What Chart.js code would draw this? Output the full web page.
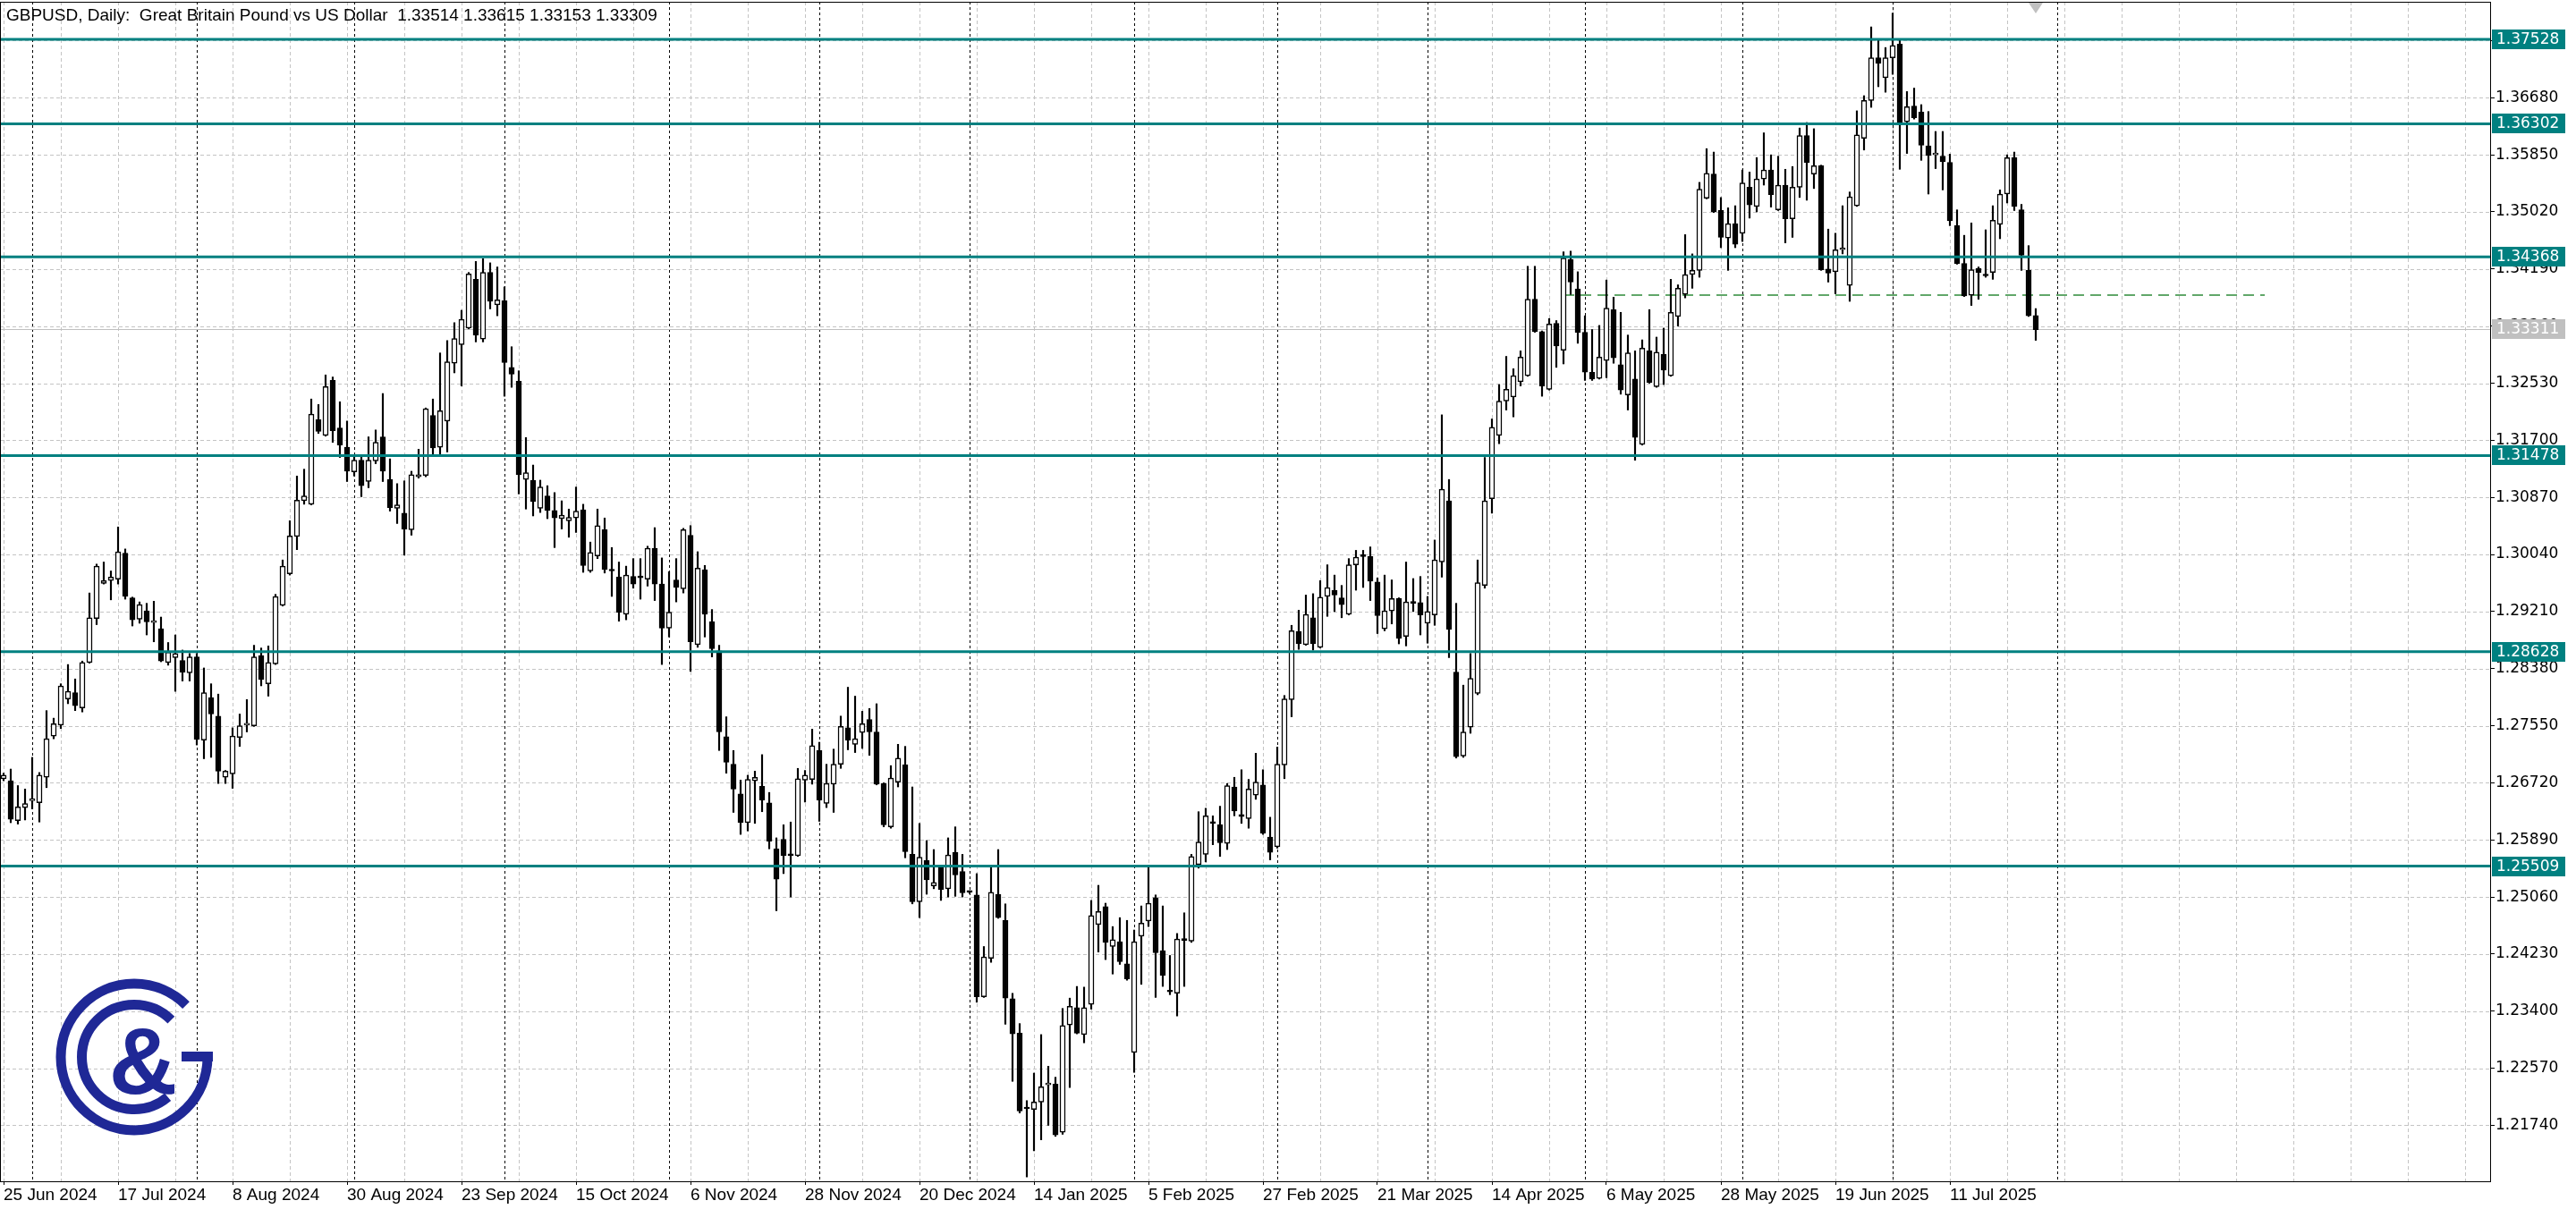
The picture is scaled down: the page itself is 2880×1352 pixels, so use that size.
<!DOCTYPE html>
<html lang="en">
<head>
<meta charset="UTF-8">
<title>GBPUSD, Daily</title>
<script src="https://cdn.jsdelivr.net/npm/chart.js"></script>
<style>
  html, body { margin: 0; padding: 0; background: #fff; }
  canvas { display: block; }
</style>
</head>
<body>
<canvas id="chart" width="2880" height="1352"></canvas>
<script>
const headerText = 'GBPUSD, Daily:  Great Britain Pound vs US Dollar  1.33514 1.33615 1.33153 1.33309';

// daily candles (first bar = 25 Jun 2024)
const opens = [
  1.2678,1.2675,1.2617,1.2636,1.2646,1.2643,1.2680,1.2740,1.2756,1.2794,
  1.2803,1.2781,1.2847,1.2911,1.2962,1.2966,1.2968,1.3006,1.2941,1.2910,
  1.2922,1.2905,1.2896,1.2847,1.2854,1.2850,1.2832,1.2855,1.2734,1.2796,
  1.2769,1.2680,1.2685,1.2738,1.2756,1.2755,1.2857,1.2816,1.2845,1.2930,
  1.2976,1.3030,1.3082,1.3077,1.3200,1.3177,1.3257,1.3188,1.3160,1.3124,
  1.3141,1.3110,1.3140,1.3175,1.3113,1.3071,1.3064,1.3040,1.3117,1.3119,
  1.3206,1.3160,1.3198,1.3282,1.3309,1.3333,1.3404,1.3317,1.3414,1.3367,
  1.3373,1.3276,1.3256,1.3113,1.3112,1.3071,1.3089,1.3068,1.3056,1.3053,
  1.3057,1.3069,1.2980,1.3002,1.3040,1.2981,1.2971,1.2917,1.2972,1.2971,
  1.2968,1.3013,1.2961,1.2897,1.2967,1.2954,1.3032,1.2873,1.2982,1.2906,
  1.2864,1.2739,1.2699,1.2656,1.2614,1.2675,1.2667,1.2643,1.2576,1.2590,
  1.2567,1.2566,1.2676,1.2677,1.2719,1.2642,1.2670,1.2699,1.2752,1.2728,
  1.2745,1.2764,1.2746,1.2671,1.2608,1.2673,1.2698,1.2568,1.2499,1.2559,
  1.2522,1.2549,1.2518,1.2571,1.2543,1.2514,1.2509,1.2361,1.2417,1.2510,
  1.2472,1.2358,1.2308,1.2200,1.2197,1.2208,1.2233,1.2234,1.2164,1.2320,
  1.2345,1.2306,1.2350,1.2466,1.2492,1.2434,1.2441,1.2409,1.2280,1.2449,
  1.2471,1.2505,1.2428,1.2369,1.2366,1.2444,1.2442,1.2553,1.2568,1.2614,
  1.2611,1.2584,1.2666,1.2626,1.2620,1.2654,1.2669,1.2593,1.2579,1.2698,
  1.2793,1.2892,1.2873,1.2912,1.2869,1.2943,1.2952,1.2941,1.2917,1.2989,
  1.3002,1.3001,1.2964,1.2896,1.2922,1.2940,1.2885,1.2935,1.2934,1.2904,
  1.2916,1.2993,1.3082,1.2833,1.2711,1.2753,1.2802,1.2959,1.3085,1.3177,
  1.3227,1.3233,1.3255,1.3264,1.3375,1.3328,1.3244,1.3340,1.3301,1.3433,
  1.3390,1.3327,1.3269,1.3260,1.3286,1.3360,1.3280,1.3236,1.3259,1.3164,
  1.3300,1.3248,1.3295,1.3264,1.3350,1.3382,1.3411,1.3417,1.3522,1.3557,
  1.3504,1.3464,1.3485,1.3471,1.3538,1.3510,1.3550,1.3563,1.3505,1.3541,
  1.3492,1.3538,1.3613,1.3557,1.3569,1.3419,1.3415,1.3447,1.3395,1.3511,
  1.3609,1.3664,1.3726,1.3697,1.3726,1.3746,1.3633,1.3656,1.3647,1.3598,
  1.3585,1.3583,1.3574,1.3482,1.3427,1.3381,1.3420,1.3411,1.3414,1.3484,
  1.3528,1.3581,1.3505,1.3417,1.33514
];
const highs = [
  1.2686,1.2692,1.2668,1.2663,1.2709,1.2687,1.2777,1.2766,1.2816,1.2844,
  1.2823,1.2849,1.2948,1.2990,1.2993,1.2980,1.3044,1.3012,1.2942,1.2935,
  1.2933,1.2936,1.2913,1.2876,1.2887,1.2865,1.2860,1.2860,1.2839,1.2816,
  1.2801,1.2690,1.2752,1.2772,1.2793,1.2872,1.2868,1.2871,1.2946,1.2996,
  1.3053,1.3118,1.3128,1.3230,1.3222,1.3265,1.3262,1.3226,1.3198,1.3148,
  1.3146,1.3175,1.3185,1.3238,1.3143,1.3107,1.3111,1.3125,1.3157,1.3217,
  1.3230,1.3297,1.3315,1.3341,1.3359,1.3414,1.3430,1.3434,1.3428,1.3422,
  1.3393,1.3306,1.3271,1.3174,1.3134,1.3112,1.3104,1.3094,1.3082,1.3070,
  1.3102,1.3077,1.3022,1.3070,1.3057,1.3014,1.2993,1.2987,1.2998,1.2998,
  1.3016,1.3043,1.2999,1.2979,1.2998,1.3042,1.3046,1.3008,1.2988,1.2924,
  1.2872,1.2768,1.2719,1.2676,1.2683,1.2689,1.2713,1.2658,1.2592,1.2611,
  1.2615,1.2693,1.2690,1.2750,1.2731,1.2699,1.2721,1.2769,1.2811,1.2798,
  1.2776,1.2780,1.2787,1.2672,1.2697,1.2728,1.2725,1.2666,1.2613,1.2588,
  1.2575,1.2552,1.2592,1.2608,1.2568,1.2515,1.2540,1.2434,1.2549,1.2575,
  1.2496,1.2366,1.2322,1.2210,1.2250,1.2306,1.2260,1.2244,1.2344,1.2359,
  1.2376,1.2375,1.2501,1.2523,1.2497,1.2463,1.2476,1.2472,1.2458,1.2493,
  1.2549,1.2509,1.2493,1.2421,1.2453,1.2483,1.2568,1.2630,1.2635,1.2624,
  1.2638,1.2671,1.2680,1.2691,1.2677,1.2715,1.2691,1.2622,1.2724,1.2799,
  1.2901,1.2923,1.2945,1.2947,1.2966,1.2989,1.2974,1.2959,1.2998,1.3010,
  1.3010,1.3015,1.2970,1.2974,1.2967,1.2941,1.2993,1.2969,1.2972,1.2943,
  1.3025,1.3207,1.3113,1.2933,1.2814,1.2860,1.2996,1.3145,1.3201,1.3251,
  1.3292,1.3274,1.3300,1.3423,1.3423,1.3329,1.3347,1.3344,1.3444,1.3445,
  1.3415,1.3351,1.3331,1.3337,1.3403,1.3378,1.3356,1.3323,1.3300,1.3316,
  1.3360,1.3320,1.3333,1.3404,1.3396,1.3469,1.3441,1.3545,1.3594,1.3589,
  1.3523,1.3508,1.3511,1.3563,1.3560,1.3581,1.3617,1.3585,1.3583,1.3564,
  1.3568,1.3624,1.3632,1.3623,1.3570,1.3477,1.3471,1.3511,1.3531,1.3649,
  1.3671,1.3771,1.3752,1.3741,1.3791,1.3752,1.3677,1.3682,1.3658,1.3648,
  1.3619,1.3619,1.3586,1.3505,1.3468,1.3486,1.3422,1.3476,1.3511,1.3534,
  1.3585,1.3589,1.3513,1.3453,1.33615
];
const lows = [
  1.2675,1.2614,1.2612,1.2618,1.2634,1.2615,1.2665,1.2736,1.2751,1.2787,
  1.2777,1.2775,1.2846,1.2902,1.2961,1.2938,1.2961,1.2939,1.2900,1.2904,
  1.2887,1.2877,1.2848,1.2843,1.2805,1.2820,1.2820,1.2727,1.2707,1.2709,
  1.2671,1.2671,1.2664,1.2725,1.2746,1.2754,1.2813,1.2798,1.2844,1.2929,
  1.2974,1.3011,1.3077,1.3076,1.3180,1.3176,1.3167,1.3145,1.3110,1.3118,
  1.3088,1.3101,1.3136,1.3110,1.3067,1.3049,1.3003,1.3032,1.3115,1.3117,
  1.3149,1.3149,1.3153,1.3268,1.3249,1.3332,1.3313,1.3313,1.3361,1.3351,
  1.3234,1.3247,1.3092,1.3070,1.3060,1.3065,1.3056,1.3014,1.3041,1.3029,
  1.3036,1.2978,1.2978,1.2998,1.2977,1.2943,1.2907,1.2909,1.2955,1.2939,
  1.2958,1.2937,1.2844,1.2884,1.2935,1.2948,1.2834,1.2869,1.2884,1.2855,
  1.2719,1.2686,1.2629,1.2597,1.2602,1.2613,1.2630,1.2576,1.2486,1.2540,
  1.2506,1.2565,1.2644,1.2670,1.2616,1.2636,1.2629,1.2693,1.2720,1.2716,
  1.2722,1.2712,1.2669,1.2608,1.2606,1.2666,1.2563,1.2496,1.2476,1.2510,
  1.2518,1.2501,1.2506,1.2507,1.2506,1.2511,1.2353,1.2360,1.2411,1.2475,
  1.2321,1.2238,1.2192,1.2099,1.2137,1.2153,1.2174,1.2158,1.2161,1.2229,
  1.2307,1.2294,1.2343,1.2426,1.2415,1.2394,1.2408,1.2385,1.2251,1.2379,
  1.2463,1.2360,1.2376,1.2364,1.2333,1.2376,1.2440,1.2548,1.2557,1.2582,
  1.2565,1.2575,1.2624,1.2613,1.2606,1.2648,1.2597,1.2560,1.2577,1.2678,
  1.2768,1.2866,1.2872,1.2865,1.2868,1.2914,1.2921,1.2912,1.2916,1.2952,
  1.2956,1.2937,1.2889,1.2893,1.2903,1.2874,1.2871,1.2921,1.2887,1.2875,
  1.2901,1.2971,1.2854,1.2708,1.2709,1.2744,1.2800,1.2955,1.3064,1.3165,
  1.3214,1.3204,1.3249,1.3263,1.3327,1.3234,1.3243,1.3276,1.3281,1.3382,
  1.3311,1.3257,1.3257,1.3259,1.3261,1.3282,1.3237,1.3214,1.3141,1.3163,
  1.3253,1.3247,1.3251,1.3263,1.3336,1.3377,1.3391,1.3407,1.3521,1.3501,
  1.3450,1.3417,1.3450,1.3459,1.3493,1.3502,1.3541,1.3509,1.3504,1.3457,
  1.3465,1.3523,1.3519,1.3536,1.3417,1.3400,1.3383,1.3441,1.3372,1.3510,
  1.3592,1.3654,1.3684,1.3676,1.3702,1.3564,1.3587,1.3637,1.3577,1.3528,
  1.3565,1.3534,1.3482,1.3426,1.3379,1.3366,1.3375,1.3407,1.3404,1.3463,
  1.3515,1.3504,1.3417,1.3350,1.33153
];
const closes = [
  1.2683,1.2619,1.2637,1.2642,1.2647,1.2683,1.2736,1.2758,1.2813,1.2805,
  1.2784,1.2847,1.2912,1.2987,1.2966,1.2971,1.3008,1.2943,1.2909,1.2931,
  1.2906,1.2906,1.2849,1.2862,1.2860,1.2833,1.2855,1.2735,1.2803,1.2772,
  1.2689,1.2689,1.2740,1.2755,1.2757,1.2855,1.2822,1.2847,1.2943,1.2987,
  1.3031,1.3083,1.3089,1.3208,1.3183,1.3248,1.3184,1.3163,1.3125,1.3141,
  1.3104,1.3141,1.3167,1.3125,1.3072,1.3076,1.3041,1.3120,1.3120,1.3216,
  1.3159,1.3213,1.3284,1.3318,1.3346,1.3412,1.3323,1.3414,1.3372,1.3374,
  1.3283,1.3266,1.3120,1.3123,1.3081,1.3102,1.3068,1.3057,1.3061,1.3058,
  1.3067,1.2988,1.3007,1.3046,1.2982,1.2980,1.2920,1.2974,1.2961,1.2970,
  1.3013,1.2961,1.2897,1.2920,1.2956,1.3040,1.2877,1.2984,1.2917,1.2867,
  1.2746,1.2702,1.2663,1.2614,1.2677,1.2680,1.2647,1.2587,1.2532,1.2566,
  1.2566,1.2678,1.2683,1.2726,1.2647,1.2671,1.2699,1.2754,1.2734,1.2736,
  1.2758,1.2746,1.2670,1.2611,1.2679,1.2708,1.2572,1.2499,1.2564,1.2531,
  1.2527,1.2517,1.2567,1.2538,1.2512,1.2513,1.2361,1.2419,1.2513,1.2476,
  1.2359,1.2307,1.2195,1.2198,1.2208,1.2230,1.2234,1.2160,1.2319,1.2347,
  1.2308,1.2345,1.2479,1.2485,1.2440,1.2444,1.2412,1.2387,1.2441,1.2468,
  1.2497,1.2425,1.2392,1.2368,1.2445,1.2443,1.2565,1.2586,1.2624,1.2613,
  1.2585,1.2668,1.2631,1.2623,1.2663,1.2673,1.2599,1.2571,1.2699,1.2794,
  1.2893,1.2874,1.2917,1.2874,1.2942,1.2956,1.2945,1.2931,1.2989,1.3000,
  1.3001,1.2965,1.2915,1.2922,1.2940,1.2882,1.2935,1.2933,1.2916,1.2921,
  1.2996,1.3099,1.2895,1.2710,1.2746,1.2824,1.2963,1.3082,1.3189,1.3227,
  1.3244,1.3264,1.3291,1.3375,1.3328,1.3249,1.3339,1.3307,1.3435,1.3400,
  1.3327,1.3269,1.3259,1.3291,1.3362,1.3290,1.3243,1.3297,1.3174,1.3304,
  1.3254,1.3298,1.3272,1.3356,1.3391,1.3411,1.3417,1.3535,1.3558,1.3502,
  1.3465,1.3485,1.3455,1.3544,1.3512,1.3550,1.3563,1.3527,1.3541,1.3492,
  1.3538,1.3613,1.3574,1.3569,1.3418,1.3413,1.3447,1.3448,1.3524,1.3614,
  1.3664,1.3726,1.3718,1.3726,1.3744,1.3632,1.3655,1.3639,1.3599,1.3584,
  1.3586,1.3575,1.3489,1.3427,1.3380,1.3418,1.3414,1.3409,1.3490,1.3528,
  1.3581,1.3510,1.3439,1.3351,1.33309
];

// one label every 16 bars
const dateTicks = [
  '25 Jun 2024', '17 Jul 2024', '8 Aug 2024', '30 Aug 2024', '23 Sep 2024', '15 Oct 2024',
  '6 Nov 2024', '28 Nov 2024', '20 Dec 2024', '14 Jan 2025', '5 Feb 2025', '27 Feb 2025',
  '21 Mar 2025', '14 Apr 2025', '6 May 2025', '28 May 2025', '19 Jun 2025', '11 Jul 2025'
];
const priceTicks = [
  1.21740, 1.22570, 1.23400, 1.24230, 1.25060, 1.25890, 1.26720, 1.27550, 1.28380, 1.29210,
  1.30040, 1.30870, 1.31700, 1.32530, 1.33360, 1.34190, 1.35020, 1.35850, 1.36680, 1.37510
];
const levels = [1.37528, 1.36302, 1.34368, 1.31478, 1.28628, 1.25509];
const bidPrice = 1.33311;
const dashedPrice = 1.3381;
const dashedFrom = 218;
const dashedTo = 316;

// trading calendar: weekdays, no bar on 25 Dec 2024; slots run on past the last bar
const slotCount = 348;
const holidays = ['2024-12-25'];
const calendar = [];
(function () {
  const d = new Date(Date.UTC(2024, 5, 25));
  while (calendar.length < slotCount) {
    const wd = d.getUTCDay();
    const iso = d.toISOString().slice(0, 10);
    if (wd !== 0 && wd !== 6 && holidays.indexOf(iso) < 0) calendar.push(new Date(d));
    d.setUTCDate(d.getUTCDate() + 1);
  }
})();
const slotLabels = calendar.map(d => d.toISOString().slice(0, 10));

const teal = '#008080';
const n = opens.length;

function strokeLine(ctx, x1, y1, x2, y2) {
  ctx.beginPath();
  ctx.moveTo(x1, y1);
  ctx.lineTo(x2, y2);
  ctx.stroke();
}

function drawLogo(ctx) {
  const cx = 150, cy = 1182, blue = '#1f2896';
  ctx.save();
  ctx.setLineDash([]);
  ctx.strokeStyle = blue;
  ctx.fillStyle = blue;
  ctx.lineWidth = 11;
  ctx.lineCap = 'butt';
  ctx.beginPath();
  ctx.arc(cx, cy, 82, -Math.PI / 4, 0, true);
  ctx.stroke();
  ctx.fillRect(cx + 53, cy - 6, 35, 11);
  ctx.beginPath();
  ctx.arc(cx, cy, 58.5, -Math.PI / 4, 50 * Math.PI / 180, true);
  ctx.stroke();
  ctx.font = 'bold 106px "Liberation Sans"';
  ctx.textAlign = 'center';
  ctx.textBaseline = 'alphabetic';
  ctx.fillText('&', 160, 1223);
  ctx.restore();
}

const mt5Look = {
  id: 'mt5Look',
  beforeDraw(chart) {
    const { ctx, width, height } = chart;
    ctx.save();
    ctx.fillStyle = '#fff';
    ctx.fillRect(0, 0, width, height);
    ctx.restore();
  },
  beforeDatasetsDraw(chart) {
    const { ctx, chartArea: a, scales: { x, y } } = chart;
    ctx.save();
    ctx.beginPath();
    ctx.rect(a.left, a.top, a.right - a.left, a.bottom - a.top);
    ctx.clip();
    ctx.lineWidth = 1;

    ctx.strokeStyle = '#c4c4c4';
    ctx.setLineDash([4, 3]);
    priceTicks.forEach(v => {
      const py = Math.round(y.getPixelForValue(v)) + 0.5;
      strokeLine(ctx, a.left, py, a.right, py);
    });
    for (let i = 0; i < slotCount; i += 8) {
      const px = Math.round(x.getPixelForValue(i)) + 0.5;
      strokeLine(ctx, px, a.top, px, a.bottom);
    }

    // month separators, up to the first one after the last bar
    ctx.strokeStyle = '#000';
    ctx.setLineDash([3, 3]);
    for (let i = 1; i < slotCount; i++) {
      if (calendar[i].getUTCMonth() !== calendar[i - 1].getUTCMonth()) {
        const px = Math.round(x.getPixelForValue(i)) + 0.5;
        strokeLine(ctx, px, a.top, px, a.bottom);
        if (i >= n) break;
      }
    }

    // bid line
    ctx.setLineDash([]);
    ctx.strokeStyle = '#c0c0c0';
    const by = Math.round(y.getPixelForValue(bidPrice)) + 0.5;
    strokeLine(ctx, a.left, by, a.right, by);

    // dashed level
    ctx.strokeStyle = '#2e8b3a';
    ctx.lineWidth = 1.5;
    ctx.setLineDash([12, 7]);
    const dy = y.getPixelForValue(dashedPrice);
    strokeLine(ctx, x.getPixelForValue(dashedFrom), dy, x.getPixelForValue(dashedTo), dy);

    drawLogo(ctx);
    ctx.restore();
  },
  afterDatasetsDraw(chart) {
    const { ctx, chartArea: a, scales: { x, y } } = chart;
    ctx.save();
    ctx.setLineDash([]);

    ctx.strokeStyle = teal;
    ctx.lineWidth = 3;
    levels.forEach(v => {
      const py = y.getPixelForValue(v);
      strokeLine(ctx, a.left, py, a.right, py);
    });

    // frame
    ctx.strokeStyle = '#000';
    ctx.lineWidth = 1;
    ctx.strokeRect(a.left + 0.5, a.top + 0.5, a.right - a.left, a.bottom - a.top);

    // shift marker
    const mx = x.getPixelForValue(n - 1);
    ctx.fillStyle = '#c0c0c0';
    ctx.beginPath();
    ctx.moveTo(mx - 8, a.top + 1);
    ctx.lineTo(mx + 8, a.top + 1);
    ctx.lineTo(mx, a.top + 13);
    ctx.closePath();
    ctx.fill();

    // header
    ctx.fillStyle = '#000';
    ctx.font = '19px "Liberation Sans"';
    ctx.textAlign = 'left';
    ctx.textBaseline = 'alphabetic';
    ctx.fillText(headerText, 7, 23);

    // price boxes on the scale
    ctx.font = '17px "DejaVu Sans"';
    ctx.textBaseline = 'middle';
    const box = (v, bg) => {
      const py = Math.round(y.getPixelForValue(v));
      ctx.fillStyle = bg;
      ctx.fillRect(a.right + 2, py - 11, 82, 22);
      ctx.fillStyle = '#fff';
      ctx.fillText(v.toFixed(5), a.right + 7, py + 1);
    };
    levels.forEach(v => box(v, teal));
    box(bidPrice, '#c0c0c0');
    ctx.restore();
  }
};

new Chart(document.getElementById('chart').getContext('2d'), {
  type: 'bar',
  data: {
    labels: slotLabels,
    datasets: [
      {
        label: 'body',
        data: opens.map((o, i) => [o, closes[i]]),
        backgroundColor: opens.map((o, i) => closes[i] >= o ? '#ffffff' : '#000000'),
        borderColor: '#000',
        borderWidth: 1.5,
        borderSkipped: false,
        minBarLength: 2,
        barThickness: 6,
        grouped: false,
        order: 0
      },
      {
        label: 'wick',
        data: lows.map((l, i) => [l, highs[i]]),
        backgroundColor: '#000',
        borderWidth: 0,
        barThickness: 1.5,
        grouped: false,
        order: 1
      }
    ]
  },
  options: {
    responsive: false,
    animation: false,
    devicePixelRatio: 1,
    layout: { padding: { left: 0, top: 2, right: 0, bottom: 0 } },
    plugins: {
      legend: { display: false },
      tooltip: { enabled: false }
    },
    scales: {
      x: {
        type: 'category',
        offset: true,
        grid: {
          offset: false,
          drawOnChartArea: false,
          drawTicks: true,
          tickLength: 4,
          tickColor: c => (c.index % 16 === 0 && c.index < n) ? '#000' : 'rgba(0,0,0,0)'
        },
        border: { display: false },
        ticks: {
          autoSkip: false,
          maxRotation: 0,
          minRotation: 0,
          align: 'start',
          padding: 0,
          color: '#000',
          font: { family: 'Liberation Sans', size: 19 },
          callback: (v, i) => (i % 16 === 0 && i / 16 < dateTicks.length) ? dateTicks[i / 16] : ''
        },
        afterFit: s => {
          s.height = 31;
          s.paddingLeft = 0;
          s.paddingRight = 0;
        }
      },
      y: {
        position: 'right',
        min: 1.20927,
        max: 1.38075,
        beginAtZero: false,
        afterBuildTicks: s => { s.ticks = priceTicks.map(v => ({ value: v })); },
        grid: {
          drawOnChartArea: false,
          drawTicks: true,
          tickLength: 5,
          tickColor: '#000'
        },
        border: { display: false },
        ticks: {
          autoSkip: false,
          padding: 1,
          color: '#000',
          font: { family: 'DejaVu Sans', size: 17 },
          callback: v => Number(v).toFixed(5)
        },
        afterFit: s => {
          s.width = 96;
          s.paddingTop = 0;
          s.paddingBottom = 0;
        }
      }
    }
  },
  plugins: [mt5Look]
});
</script>
</body>
</html>
